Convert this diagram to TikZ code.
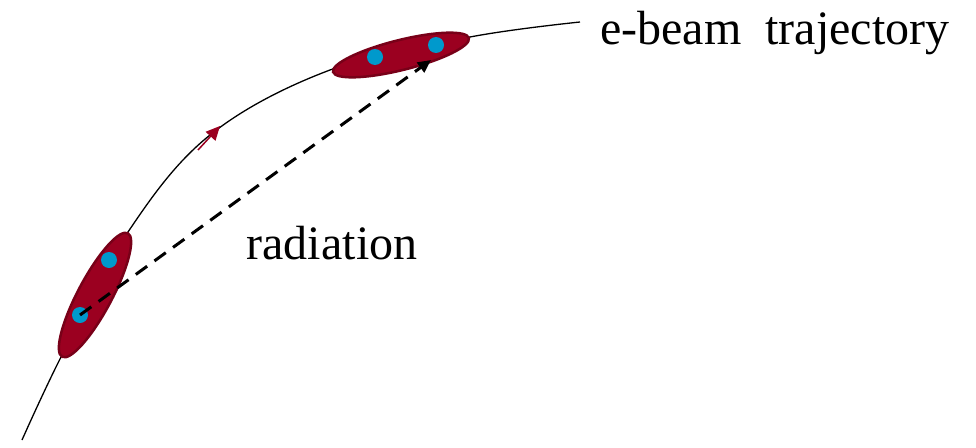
\documentclass[tikz,border=0pt]{standalone}
\usepackage{fontspec}
\setmainfont{Liberation Serif}
\usetikzlibrary{arrows.meta}
\definecolor{bunch}{HTML}{9B0020}
\definecolor{bunchedge}{HTML}{780018}
\definecolor{dot}{HTML}{0099CC}
\tikzset{
  bunchstyle/.style={fill=bunch, draw=bunchedge, line width=2.5pt},
  dotstyle/.style={circle, fill=dot, inner sep=0pt, minimum size=16pt},
  traj/.style={line width=1.3pt, black},
  lbl/.style={font=\fontsize{48}{50}\selectfont, inner sep=0pt}
}
\begin{document}
\begin{tikzpicture}[x=1pt,y=-1pt]
\useasboundingbox (0,0) rectangle (976,447);
% trajectory
\draw[traj] plot[smooth, tension=0.6] coordinates {(22,440) (62,355) (128,232) (210,135) (330,70) (470,37) (580,22)};
\coordinate (arrA) at (198,150);
\coordinate (arrB) at (220,126);
\draw[bunch, line width=1.5pt, -{Triangle[length=14pt,width=13pt]}] (arrA) -- (arrB);
% bunches
\draw[bunchstyle, rotate around={62:(95,295)}] (95,295) ellipse (70pt and 17pt);
\draw[bunchstyle, rotate around={14:(401,55)}] (401,55) ellipse (70pt and 15pt);
% particles
\node[dotstyle] (p1) at (109,260) {};
\node[dotstyle] (p2) at (80,315) {};
\node[dotstyle] (p3) at (375,57) {};
\node[dotstyle] (p4) at (436,45) {};
\coordinate (tip) at (431,60);
\draw[line width=3pt, dash pattern=on 14pt off 9pt, -{Triangle[length=13pt,width=12pt]}] (p2.center) -- (tip);
% labels
\node[lbl, anchor=west] (traj) at (600,33) {e-beam\ \ trajectory};
\node[lbl] (rad) at (332,243) {radiation};
\end{tikzpicture}
\end{document}
